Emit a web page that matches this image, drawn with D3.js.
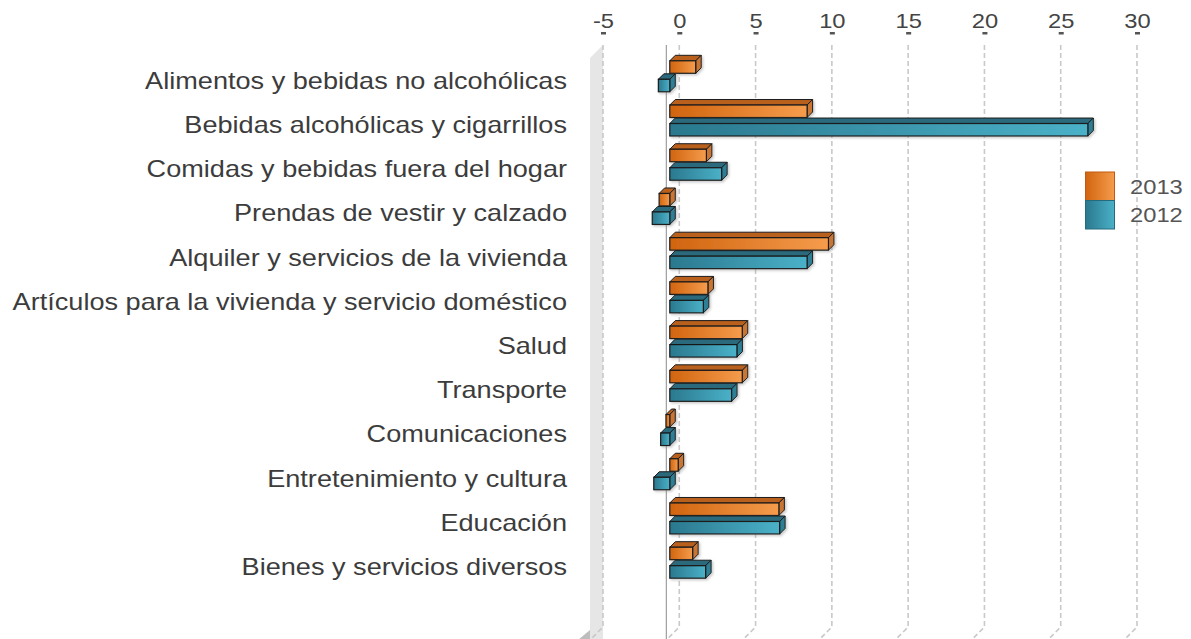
<!DOCTYPE html>
<html>
<head>
<meta charset="utf-8">
<script src="https://cdn.jsdelivr.net/npm/d3@7"></script>
<style>
  html, body { margin: 0; padding: 0; background: #ffffff; }
  svg { display: block; }
</style>
</head>
<body>
<svg id="chart" width="1191" height="639"></svg>
<script>
// Variación porcentual por división de gasto
const categories = [
  "Alimentos y bebidas no alcohólicas",
  "Bebidas alcohólicas y cigarrillos",
  "Comidas y bebidas fuera del hogar",
  "Prendas de vestir y calzado",
  "Alquiler y servicios de la vivienda",
  "Artículos para la vivienda y servicio doméstico",
  "Salud",
  "Transporte",
  "Comunicaciones",
  "Entretenimiento y cultura",
  "Educación",
  "Bienes y servicios diversos"
];
const values2013 = [1.7, 9.0, 2.4, -0.7, 10.4, 2.5, 4.75, 4.75, -0.25, 0.55, 7.15, 1.5];
const values2012 = [-0.75, 27.4, 3.4, -1.15, 9.0, 2.2, 4.4, 4.05, -0.6, -1.05, 7.2, 2.35];
const seriesNames = ["2013", "2012"];
const tickValues = [-5, 0, 5, 10, 15, 20, 25, 30];

const svg = d3.select("#chart");
const defs = svg.append("defs");

// text is drawn slightly wide
const stretch = 1.13;
const font = "'Liberation Sans', Arial, sans-serif";

// 3D geometry of the plot box
const depth = 13;          // floor / wall depth
const barDepth = 5.5;      // bar thickness
const backTop = 45, backBottom = 627;

// back-plane scale (gridlines, ticks) and bar-front scale
const xg = d3.scaleLinear().domain([-5, 30]).range([603, 1137]);
const xb = d3.scaleLinear().domain([-5, 30]).range([603 - 9.5, 1137 - 9.5]);

// category rows
const y = d3.scalePoint().domain(categories).range([79.3, 565.7]);
const barH = 12.5;
const orangeOffset = -18.5;

// gradients
function hGrad(id, c0, c1) {
  const g = defs.append("linearGradient").attr("id", id)
    .attr("x1", "0%").attr("x2", "100%").attr("y1", "0%").attr("y2", "0%");
  g.append("stop").attr("offset", "0%").attr("stop-color", c0);
  g.append("stop").attr("offset", "100%").attr("stop-color", c1);
}
hGrad("gOrange", "#d1640f", "#f59c4c");
hGrad("gTeal", "#2a788e", "#4ab1c8");

const shadow = defs.append("filter").attr("id", "shadow")
  .attr("x", "-10%").attr("y", "-30%").attr("width", "130%").attr("height", "170%");
shadow.append("feDropShadow").attr("dx", 1.5).attr("dy", 1.5)
  .attr("stdDeviation", 1).attr("flood-color", "#888").attr("flood-opacity", 0.45);

const palette = {
  "2013": { front: "url(#gOrange)", top: "#b9601f", side: "#c97635", legend: "url(#gOrange)", stroke: "#c05a10" },
  "2012": { front: "url(#gTeal)", top: "#2a6a7b", side: "#2e7f95", legend: "url(#gTeal)", stroke: "#256b7e" }
};

// left wall
svg.append("polygon")
  .attr("points", [[xg(-5), backTop], [xg(-5), backBottom + 20],
                   [xg(-5) - depth, backBottom + 33], [xg(-5) - depth, backTop + depth]].join(" "))
  .attr("fill", "#e6e6e6");
svg.append("polygon")
  .attr("points", [[xg(-5) - depth, 630], [xg(-5) - depth, 640], [xg(-5) - depth - 12, 640]].join(" "))
  .attr("fill", "#bdbdbd");

// gridlines on back wall and floor
const grid = svg.append("g");
tickValues.forEach(t => {
  const gx = xg(t);
  grid.append("path")
    .attr("d", `M${gx},${backTop}L${gx},${backBottom}L${gx - depth},${backBottom + depth}`)
    .attr("fill", "none")
    .attr("stroke", "#c9c9c9")
    .attr("stroke-width", 1.6)
    .attr("stroke-dasharray", "5,3");
});

// top axis: tick labels and small tick marks
const axis = d3.axisTop(xg).tickValues(tickValues).tickSize(0).tickPadding(0)
  .tickFormat(d => String(d));
const axisG = svg.append("g").attr("transform", `translate(0,28)`).call(axis);
axisG.select(".domain").remove();
axisG.selectAll("text")
  .attr("y", 0).attr("dy", 0)
  .attr("transform", `scale(${stretch},1)`)
  .attr("fill", "#444")
  .style("font-family", font)
  .style("font-size", "21px");
axisG.selectAll(".tick").append("rect")
  .attr("x", -2.5).attr("y", 4).attr("width", 5).attr("height", 2.5)
  .attr("fill", "#555");

// front zero line
svg.append("line")
  .attr("x1", xg(0) - depth).attr("x2", xg(0) - depth)
  .attr("y1", backTop).attr("y2", 639)
  .attr("stroke", "#8a8a8a").attr("stroke-width", 1);

// 3D bars
function drawBar(g, v, yTop, pal) {
  const x0 = xb(Math.min(0, v)), x1 = xb(Math.max(0, v));
  const d = barDepth;
  const bar = g.append("g").attr("filter", "url(#shadow)");
  bar.append("polygon")
    .attr("points", [[x0, yTop], [x0 + d, yTop - d], [x1 + d, yTop - d], [x1, yTop]].join(" "))
    .attr("fill", pal.top).attr("stroke", "#1a1a1a").attr("stroke-width", 1).attr("stroke-linejoin", "round");
  bar.append("polygon")
    .attr("points", [[x1, yTop], [x1 + d, yTop - d], [x1 + d, yTop + barH - d], [x1, yTop + barH]].join(" "))
    .attr("fill", pal.side).attr("stroke", "#1a1a1a").attr("stroke-width", 1).attr("stroke-linejoin", "round");
  bar.append("rect")
    .attr("x", x0).attr("y", yTop).attr("width", Math.max(0.5, x1 - x0)).attr("height", barH)
    .attr("fill", pal.front).attr("stroke", "#1a1a1a").attr("stroke-width", 1.2);
}

const bars = svg.append("g");
categories.forEach((c, i) => {
  const yc = y(c);
  drawBar(bars, values2013[i], yc + orangeOffset, palette["2013"]);
  drawBar(bars, values2012[i], yc, palette["2012"]);
});

// category labels
svg.append("g").selectAll("text")
  .data(categories).join("text")
  .attr("transform", d => `translate(567,${y(d) + 1}) scale(${stretch},1)`)
  .attr("text-anchor", "end")
  .attr("dominant-baseline", "central")
  .attr("fill", "#3c3c3c")
  .style("font-family", font)
  .style("font-size", "24px")
  .text(d => d);

// legend
const legend = svg.append("g");
seriesNames.forEach((s, i) => {
  const ly = 172 + i * 28.5;
  legend.append("rect")
    .attr("x", 1085.5).attr("y", ly).attr("width", 29).attr("height", 28.5)
    .attr("fill", palette[s].legend).attr("stroke", palette[s].stroke).attr("stroke-width", 1);
  legend.append("text")
    .attr("transform", `translate(1130,${ly + 14.5}) scale(${stretch},1)`)
    .attr("dominant-baseline", "central")
    .attr("fill", "#555")
    .style("font-family", font)
    .style("font-size", "21px")
    .text(s);
});
</script>
</body>
</html>
